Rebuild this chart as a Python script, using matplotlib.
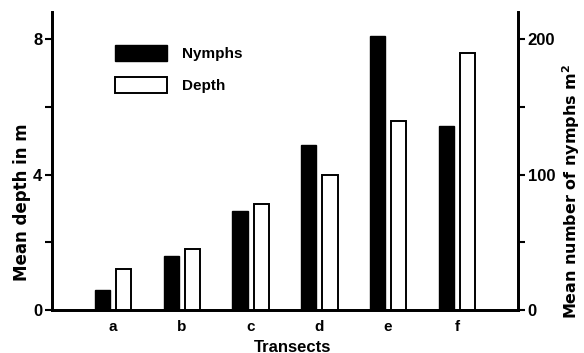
import matplotlib.pyplot as plt
import numpy as np

transects = ['a', 'b', 'c', 'd', 'e', 'f']
nymphs = [15, 40, 73, 122, 202, 136]          # mean number of nymphs m^-2 (right axis)
depth = [1.21, 1.81, 3.14, 4.0, 5.58, 7.58]   # mean depth in m (left axis)


def main():
    plt.rcParams['font.family'] = ['Liberation Sans', 'DejaVu Sans']
    plt.rcParams['font.weight'] = 'bold'
    plt.rcParams['mathtext.fontset'] = 'dejavusans'

    fig = plt.figure(figsize=(5.84, 3.53), dpi=100)
    ax = fig.add_axes([0.089, 0.122, 0.798, 0.844])
    ax2 = ax.twinx()

    x = np.arange(len(transects))
    w = 0.22
    off = 0.155

    ax2.bar(x - off, nymphs, width=w, color='black', edgecolor='black', label='Nymphs')
    ax.bar(x + off, depth, width=w, color='white', edgecolor='black', linewidth=1.4, label='Depth')

    ax.set_xlim(-0.89, 5.89)
    ax.set_ylim(0, 8.8)
    ax2.set_ylim(0, 220)

    ax.set_yticks([0, 4, 8])
    ax.set_yticks([2, 6], minor=True)
    ax2.set_yticks([0, 100, 200])
    ax2.set_yticks([50, 150], minor=True)
    ax.set_xticks(x)
    ax.set_xticklabels(transects, fontsize=11, fontweight='bold')
    ax.tick_params(axis='x', length=0, pad=7)

    for a in (ax, ax2):
        a.spines['top'].set_visible(False)
        for s in ('left', 'right', 'bottom'):
            a.spines[s].set_linewidth(2)
        a.tick_params(axis='y', which='both', length=5, width=1.5, labelsize=12, pad=2)
    for lab in ax.get_yticklabels() + ax2.get_yticklabels():
        lab.set_fontweight('bold')

    # axis titles placed by hand, as in the original they sit low
    fig.text(22 / 584, 1 - 202 / 353, 'Mean depth in m', rotation=90,
             ha='center', va='center', fontsize=12, fontweight='bold',
             family='DejaVu Sans')
    fig.text(571 / 584, 1 - 191 / 353, 'Mean number of nymphs m$^{\\mathbf{2}}$',
             rotation=90, ha='center', va='center', fontsize=11.5,
             fontweight='bold', family='DejaVu Sans')
    fig.text(293 / 584, 1 - 347 / 353, 'Transects', ha='center', va='center',
             fontsize=12, fontweight='bold')

    handles = [ax2.patches[0], ax.patches[0]]
    ax.legend(handles, ['Nymphs', 'Depth'], loc='upper left',
              bbox_to_anchor=(0.105, 0.935), frameon=False,
              handlelength=3.4, handleheight=1.25, labelspacing=1.0,
              handletextpad=1.0, prop={'size': 11, 'weight': 'bold'})

    plt.savefig('out.png', dpi=100)


if __name__ == "__main__":
    main()
